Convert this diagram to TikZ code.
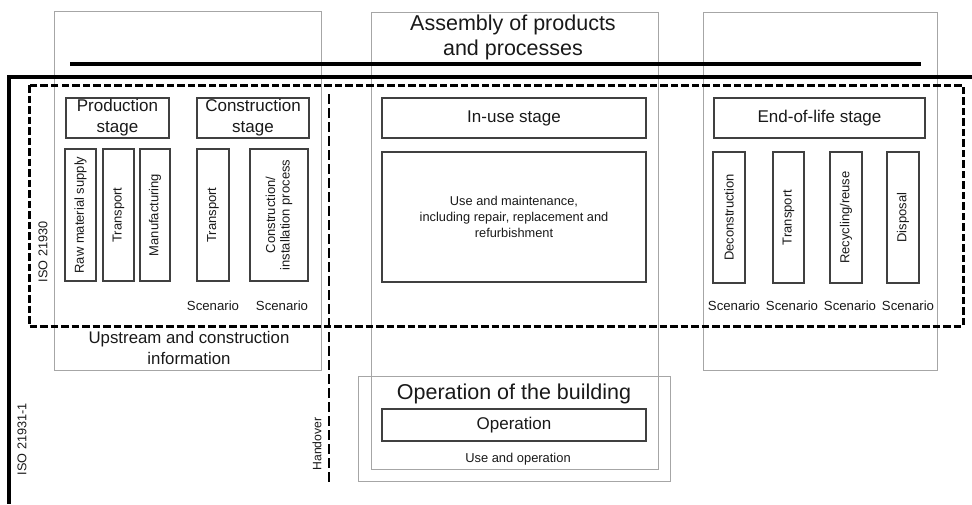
\documentclass[tikz,border=0pt]{standalone}
\usepackage{fontspec}
\setmainfont{Liberation Sans}
\begin{document}
\begin{tikzpicture}[x=1pt,y=-1pt,
  graybox/.style={draw=black!35, line width=0.8pt, inner sep=0pt, minimum width=#1},
  stagebox/.style={draw=black!75, line width=1.1pt, inner sep=1pt, align=center, text=black!90},
  vbox/.style={draw=black!75, line width=1.1pt, inner sep=1pt, align=center, text=black!90, rotate=90, font=\fontsize{13}{14.5}\selectfont},
  ftitle/.style={font=\fontsize{21.5}{25}\selectfont, text=black!90, align=center, inner sep=0pt},
  fstage/.style={font=\fontsize{17}{21}\selectfont},
  fsmall/.style={font=\fontsize{12.9}{15.8}\selectfont, text=black!90, align=center, inner sep=0pt},
  fscen/.style={font=\fontsize{13.2}{15}\selectfont, text=black!90, inner sep=0pt},
  fiso/.style={font=\fontsize{12.7}{15}\selectfont, text=black!90, inner sep=0pt, rotate=90},
  thickline/.style={line width=3.2pt, line cap=butt},
  dashedframe/.style={line width=3pt, dash pattern=on 7.5pt off 3pt},
  handoverline/.style={line width=2.7pt, dash pattern=on 10pt off 4pt}
]
\useasboundingbox (0,0) rectangle (972,504);

% gray frames
\node[graybox=267pt, minimum height=359pt] (upg) at (187.5,190.5) {};
\node[graybox=287pt, minimum height=457pt] (midg) at (514.5,240.5) {};
\node[graybox=312pt, minimum height=105pt] (opg) at (514,428.5) {};
\node[graybox=234pt, minimum height=358pt] (eolg) at (820,191) {};

% thick lines
\coordinate (tl1) at (70,64);
\coordinate (tl2) at (921,64);
\draw[line width=3.6pt] (tl1) -- (tl2);
\coordinate (la) at (972,77);
\coordinate (lb) at (9,77);
\coordinate (lc) at (9,504);
\draw[thickline, line join=miter] (la) -- (lb) -- (lc);

% dashed frame
\coordinate (df1) at (29,85);
\coordinate (df2) at (963,326);
\draw[dashedframe] (df1) rectangle (df2);

% handover line
\coordinate (h1) at (329,94);
\coordinate (h2) at (329,484);
\draw[handoverline] (h1) -- (h2);

% titles
\node[ftitle] (assembly) at (513,37) {Assembly of products\\and processes};
\node[ftitle] (opbuild) at (514,394) {Operation of the building};
\node[ftitle, font=\fontsize{16.8}{20.7}\selectfont] (upstream) at (189,348) {Upstream and construction\\information};

% stage boxes
\node[stagebox, fstage, minimum width=103pt, minimum height=40pt] (prod) at (117.5,118) {Production\\stage};
\node[stagebox, fstage, minimum width=112pt, minimum height=40pt] (cons) at (253,118) {Construction\\stage};
\node[stagebox, fstage, minimum width=264pt, minimum height=40pt] (inuse) at (514,118) {In-use stage};
\node[stagebox, font=\fontsize{12.8}{15.8}\selectfont, minimum width=264pt, minimum height=130pt] (usemaint) at (514,217) {Use and maintenance,\\including repair, replacement and\\refurbishment};
\node[stagebox, fstage, minimum width=211pt, minimum height=40pt] (eol) at (819.5,118) {End-of-life stage};
\node[stagebox, fstage, minimum width=264pt, minimum height=32pt] (oper) at (514,425) {Operation};
\node[fsmall] (useop) at (518,459) {Use and operation};

% vertical boxes, left
\node[vbox, minimum width=132pt, minimum height=31pt] (raw) at (80.5,215) {Raw material supply};
\node[vbox, minimum width=132pt, minimum height=31pt] (tr1) at (118.5,215) {Transport};
\node[vbox, minimum width=132pt, minimum height=30pt] (man) at (155,215) {Manufacturing};
\node[vbox, minimum width=132pt, minimum height=32pt] (tr2) at (213,215) {Transport};
\node[vbox, minimum width=132pt, minimum height=58pt] (ci) at (279,215) {Construction/\\installation process};

% vertical boxes, right
\node[vbox, minimum width=131pt, minimum height=32pt] (dec) at (729,217.5) {Deconstruction};
\node[vbox, minimum width=131pt, minimum height=31pt] (tr3) at (788.5,217.5) {Transport};
\node[vbox, minimum width=131pt, minimum height=32pt] (rec) at (846,217.5) {Recycling/reuse};
\node[vbox, minimum width=131pt, minimum height=32pt] (dis) at (903,217.5) {Disposal};

% scenario labels
\node[fscen] (s1) at (213,306) {Scenario};
\node[fscen] (s2) at (282,306) {Scenario};
\node[fscen] (s3) at (734,306) {Scenario};
\node[fscen] (s4) at (792,306) {Scenario};
\node[fscen] (s5) at (850,306) {Scenario};
\node[fscen] (s6) at (908,306) {Scenario};

% side labels
\node[fiso] (iso1) at (43,252) {ISO 21930};
\node[fiso] (iso2) at (22,439) {ISO 21931-1};
\node[fiso, font=\fontsize{12.2}{14}\selectfont] (hand) at (317,444) {Handover};
\end{tikzpicture}
\end{document}
